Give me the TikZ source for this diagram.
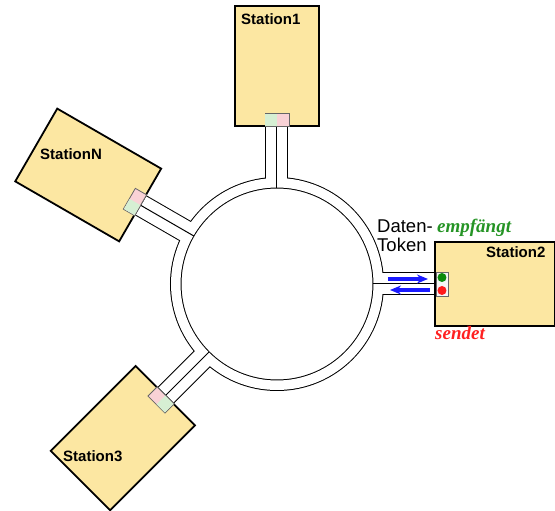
\documentclass[tikz,border=0pt]{standalone}
\usepackage{fontspec}
\setmainfont{Liberation Sans}
\newfontfamily\notefont{Liberation Serif}
\usetikzlibrary{arrows.meta, backgrounds}

\begin{document}
\begin{tikzpicture}[x=1pt, y=1pt,
    % Stile der Stationen
    station/.style={
        rectangle, draw=black, fill=boxyellow, line width=1.8pt,
        minimum width=84pt, minimum height=120pt, inner sep=0pt,
        rotate=#1
    },
    port/.style={
        rectangle, draw=black!60, fill=portpink, line width=0.8pt,
        minimum width=24pt, minimum height=13pt, inner sep=0pt,
        rotate=#1
    },
    port half/.style={
        rectangle, fill=portgreen, minimum width=11.6pt, minimum height=12.2pt,
        inner sep=0pt, outer sep=0pt, rotate=#1, anchor=east
    },
    live port/.style={
        rectangle, draw=black!60, fill=black!4, line width=0.8pt,
        minimum width=24pt, minimum height=12pt, inner sep=0pt,
        rotate=#1
    },
    lamp/.style={
        circle, fill=#1, minimum size=9pt, inner sep=0pt
    },
    station label/.style={
        font=\fontsize{15}{17}\selectfont\bfseries,
        inner sep=0pt, anchor=base west
    },
    note/.style={
        font=\fontsize{19}{21}\selectfont\notefont\bfseries\itshape,
        text=#1, inner sep=0pt, anchor=base west
    },
    % Stile der Ringleitung
    ring mark/.style={
        circle, inner sep=0pt, outer sep=0pt, minimum size=#1
    },
    wall/.style={draw=black, line width=#1},
    lane/.style={draw=white, line width=#1},
    divider/.style={draw=black, line width=1pt},
    token/.style={
        -{Stealth[length=11pt, width=9pt]}, draw=tokenblue, line width=3.4pt
    }
]

% ── Farben ──
\definecolor{boxyellow}{HTML}{FCE7A2}
\definecolor{portgreen}{HTML}{D6EFD3}
\definecolor{portpink}{HTML}{F9D2D6}
\definecolor{lampgreen}{HTML}{0B8A0B}
\definecolor{lampred}{HTML}{FF1A1A}
\definecolor{tokenblue}{HTML}{1A1AFF}
\definecolor{notegreen}{HTML}{259425}
\definecolor{notered}{HTML}{FF2020}

\useasboundingbox (-277,-227) rectangle (278,284);

% ════════════════════════════════════════
% RING (Mittelpunkt der Leitung)
% ════════════════════════════════════════
\node[ring mark=202pt] (ring) at (0,0) {};
\node[ring mark=192pt] (hub)  at (0,0) {};

% ════════════════════════════════════════
% STATIONEN
% ════════════════════════════════════════
\node[station=0]   (st1) at (90:218)  {};
\node[station=-90] (st2) at (0:218)   {};
\node[station=60]  (stN) at (150:218) {};
\node[station=135] (st3) at (225:218) {};

% Anschluesse (gruen / rosa)
\node[port=0]        (p1) at (90:164)  {};
\node[port=60]       (pN) at (150:164) {};
\node[port=135]      (p3) at (225:164) {};
\node[port half=0]   (h1) at (p1.center) {};
\node[port half=60]  (hN) at (pN.center) {};
\node[port half=135] (h3) at (p3.center) {};

% Anschluss an Station2 mit Lampen
\node[live port=-90]  (p2)  at (0:165)    {};
\node[lamp=lampgreen] (on)  at (165,6.5)  {};
\node[lamp=lampred]   (off) at (165,-6.5) {};

% ════════════════════════════════════════
% BESCHRIFTUNGEN
% ════════════════════════════════════════
\node[station label] (l1) at (-36,259)   {Station1};
\node[station label] (l2) at (209,26)    {Station2};
\node[station label] (lN) at (-237,124)  {StationN};
\node[station label] (l3) at (-214,-178) {Station3};

\node[font=\fontsize{18.5}{19}\selectfont, align=left, inner sep=0pt,
      anchor=north west] (dt) at (100,64.5) {Daten-\\Token};
\node[note=notegreen] (rx) at (160,51)  {empfängt};
\node[note=notered]   (tx) at (158,-56) {sendet};

% ════════════════════════════════════════
% TOKEN-PFEILE
% ════════════════════════════════════════
\coordinate (in a)  at (111,5);
\coordinate (in b)  at (151,5);
\coordinate (out a) at (153,-6);
\coordinate (out b) at (113,-6);
\draw[token] (in a)  -- (in b);
\draw[token] (out a) -- (out b);

% ════════════════════════════════════════
% LEITUNG (Hintergrund)
% ════════════════════════════════════════
\begin{scope}[on background layer]
    % schwarze Waende
    \draw[wall=11.5pt] (ring.center) circle[radius=101.25pt];
    \draw[wall=23pt] (ring.90)  -- (p1);
    \draw[wall=23pt] (ring.0)   -- (p2);
    \draw[wall=23pt] (ring.150) -- (pN);
    \draw[wall=23pt] (ring.225) -- (p3);
    % weisse Spur
    \draw[lane=9.5pt] (ring.center) circle[radius=101.25pt];
    \draw[lane=21pt] (ring.90)  -- (p1);
    \draw[lane=21pt] (ring.0)   -- (p2);
    \draw[lane=21pt] (ring.150) -- (pN);
    \draw[lane=21pt] (ring.225) -- (p3);
    % Trennlinien
    \draw[divider] (hub.90)  -- (p1);
    \draw[divider] (hub.0)   -- (p2);
    \draw[divider] (hub.150) -- (pN);
    \draw[divider] (hub.225) -- (p3);
\end{scope}

\end{tikzpicture}
\end{document}
